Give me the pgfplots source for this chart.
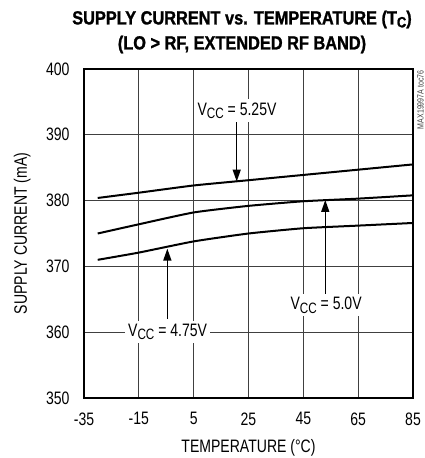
\documentclass[border=0pt]{standalone}
\usepackage{fontspec}
\setmainfont{Liberation Sans}[FakeStretch=0.78]
\newfontfamily\titlefont{Liberation Sans Bold}[FakeStretch=0.86,FakeBold=1.2]
\usepackage{pgfplots}
\pgfplotsset{compat=1.18}
\usetikzlibrary{arrows.meta}
\newcommand{\vcc}{V\raisebox{-0.35ex}{\fontsize{15}{15}\selectfont CC}}
\begin{document}
\begin{tikzpicture}
\begin{axis}[
  at={(0,0)}, anchor=south west,
  scale only axis, width=329pt, height=329pt,
  xmin=-35, xmax=85, ymin=350, ymax=400,
  xtick={-35,-15,5,25,45,65,85},
  xticklabels={-35,-15,5,25,45,65,85},
  ytick={350,360,...,400},
  yticklabels={350,360,370,380,390,400},
  major tick length=0pt,
  grid=major,
  major grid style={line width=0.9pt, black!75},
  axis line style={line width=2.6pt},
  tick label style={font=\fontsize{18}{20}\selectfont},
  xticklabel style={yshift=-11pt},
  yticklabel style={xshift=-11pt},
  xlabel={TEMPERATURE (\textdegree C)},
  ylabel={SUPPLY CURRENT (mA)},
  label style={font=\fontsize{18}{20}\selectfont},
  xlabel style={at={(axis description cs:0.5,-0.152)}, anchor=center},
  ylabel style={at={(axis description cs:-0.188,0.5)}, anchor=center},
  clip=false,
]
\addplot[black, line width=2pt, smooth, tension=0.3] coordinates {
  (-30,380.4) (-15,381.2) (5,382.3) (25,383.1) (45,383.9) (65,384.7) (85,385.5)};
\addplot[black, line width=2pt, smooth, tension=0.3] coordinates {
  (-30,375.0) (-15,376.4) (5,378.2) (25,379.2) (45,379.9) (65,380.3) (85,380.8)};
\addplot[black, line width=2pt, smooth, tension=0.3] coordinates {
  (-30,371.0) (-15,372.1) (5,373.8) (25,375.0) (45,375.8) (65,376.2) (85,376.6)};
% annotations
\draw[-{Triangle[width=8pt,length=12pt]}, line width=1.5pt] (axis cs:20.7,393.0) -- (axis cs:20.7,382.9);
\draw[-{Triangle[width=8pt,length=12pt]}, line width=1.5pt] (axis cs:53,365.0) -- (axis cs:53,380.1);
\draw[-{Triangle[width=8pt,length=12pt]}, line width=1.5pt] (axis cs:-4.6,362.0) -- (axis cs:-4.6,372.7);
\node[fill=white, inner sep=3pt, anchor=base, font=\fontsize{18}{20}\selectfont] at (axis cs:20.8,393.0) {\vcc{} = 5.25V};
\node[fill=white, inner sep=3pt, anchor=base, font=\fontsize{18}{20}\selectfont] at (axis cs:53.3,363.4) {\vcc{} = 5.0V};
\node[fill=white, inner sep=3pt, anchor=base, font=\fontsize{18}{20}\selectfont] at (axis cs:-4.5,359.4) {\vcc{} = 4.75V};
\node[rotate=90, anchor=east, font=\fontsize{9}{10}\selectfont, text=black!75, inner sep=0pt] at (axis cs:87.7,399.8) {MAX19997A toc76};
\end{axis}
\node[font=\titlefont\fontsize{19}{25}\selectfont, align=center] at (158pt,366pt) {SUPPLY CURRENT vs. TEMPERATURE (T\raisebox{-0.3ex}{\fontsize{15}{15}\selectfont C})\\(LO > RF, EXTENDED RF BAND)};
\pgfresetboundingbox
\path[use as bounding box] (-84pt,-60pt) rectangle (341pt,398pt);
\end{tikzpicture}
\end{document}
